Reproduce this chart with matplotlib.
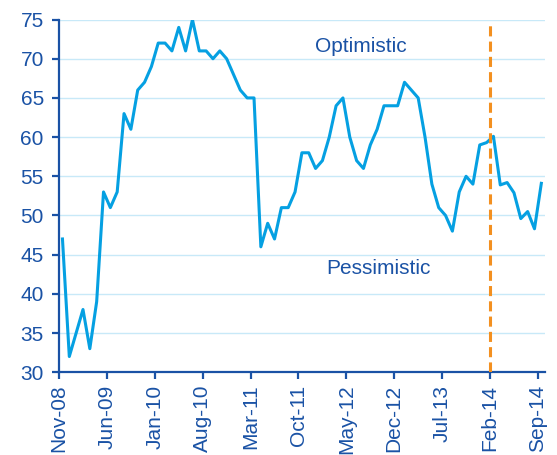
import matplotlib
matplotlib.use("Agg")
import matplotlib.pyplot as plt
import numpy as np

# monthly index, Nov-08 .. Sep-14
values = [47, 32, 35, 38, 33, 39, 53, 51, 53, 63,
          61, 66, 67, 69, 72, 72, 71, 74, 71, 75,
          71, 71, 70, 71, 70, 68, 66, 65, 65, 46,
          49, 47, 51, 51, 53, 58, 58, 56, 57, 60,
          64, 65, 60, 57, 56, 59, 61, 64, 64, 64,
          67, 66, 65, 60, 54, 51, 50, 48, 53, 55,
          54, 59, 59.3, 60.1, 53.9, 54.2, 52.9, 49.6, 50.5, 48.3,
          54.1]
tick_labels = ["Nov-08", "Jun-09", "Jan-10", "Aug-10", "Mar-11", "Oct-11",
               "May-12", "Dec-12", "Jul-13", "Feb-14", "Sep-14"]
marker_month = 63  # Feb-14

dark = "#1a52a5"
line_c = "#05a0e2"
grid_c = "#c8e9f8"
orange = "#f39020"

plt.rcParams['font.family'] = ['Liberation Sans', 'DejaVu Sans']

fig = plt.figure(figsize=(5.57, 4.55), dpi=100)
ax = fig.add_axes([0.106, 0.182, 0.872, 0.775])

x = np.arange(len(values)) + 0.5
ax.plot(x, values, color=line_c, lw=2.2, zorder=3)

ax.axvline(marker_month, ymin=0, ymax=0.993, color=orange, lw=2.2,
           dashes=(3.3, 1.7), zorder=4)

ax.set_xlim(0, len(values))
ax.set_ylim(30, 75)
ax.set_yticks(np.arange(30, 76, 5))
ax.set_xticks(np.arange(0, len(values), 7))
ax.set_xticklabels(tick_labels, rotation=90)

ax.grid(axis='y', color=grid_c, lw=1.0, zorder=0)
ax.set_axisbelow(True)

for s in ['top', 'right']:
    ax.spines[s].set_visible(False)
for s in ['left', 'bottom']:
    ax.spines[s].set_color(dark)
    ax.spines[s].set_linewidth(1.6)

ax.tick_params(axis='both', colors=dark, labelcolor=dark, labelsize=15,
               length=5, width=1.6, direction='out')
ax.tick_params(axis='y', pad=6)
ax.tick_params(axis='x', pad=4)

ax.text(37.4, 71.6, "Optimistic", color=dark, fontsize=15, va='center', ha='left')
ax.text(39.1, 43.2, "Pessimistic", color=dark, fontsize=15, va='center', ha='left')

fig.savefig("out.png", dpi=100)
